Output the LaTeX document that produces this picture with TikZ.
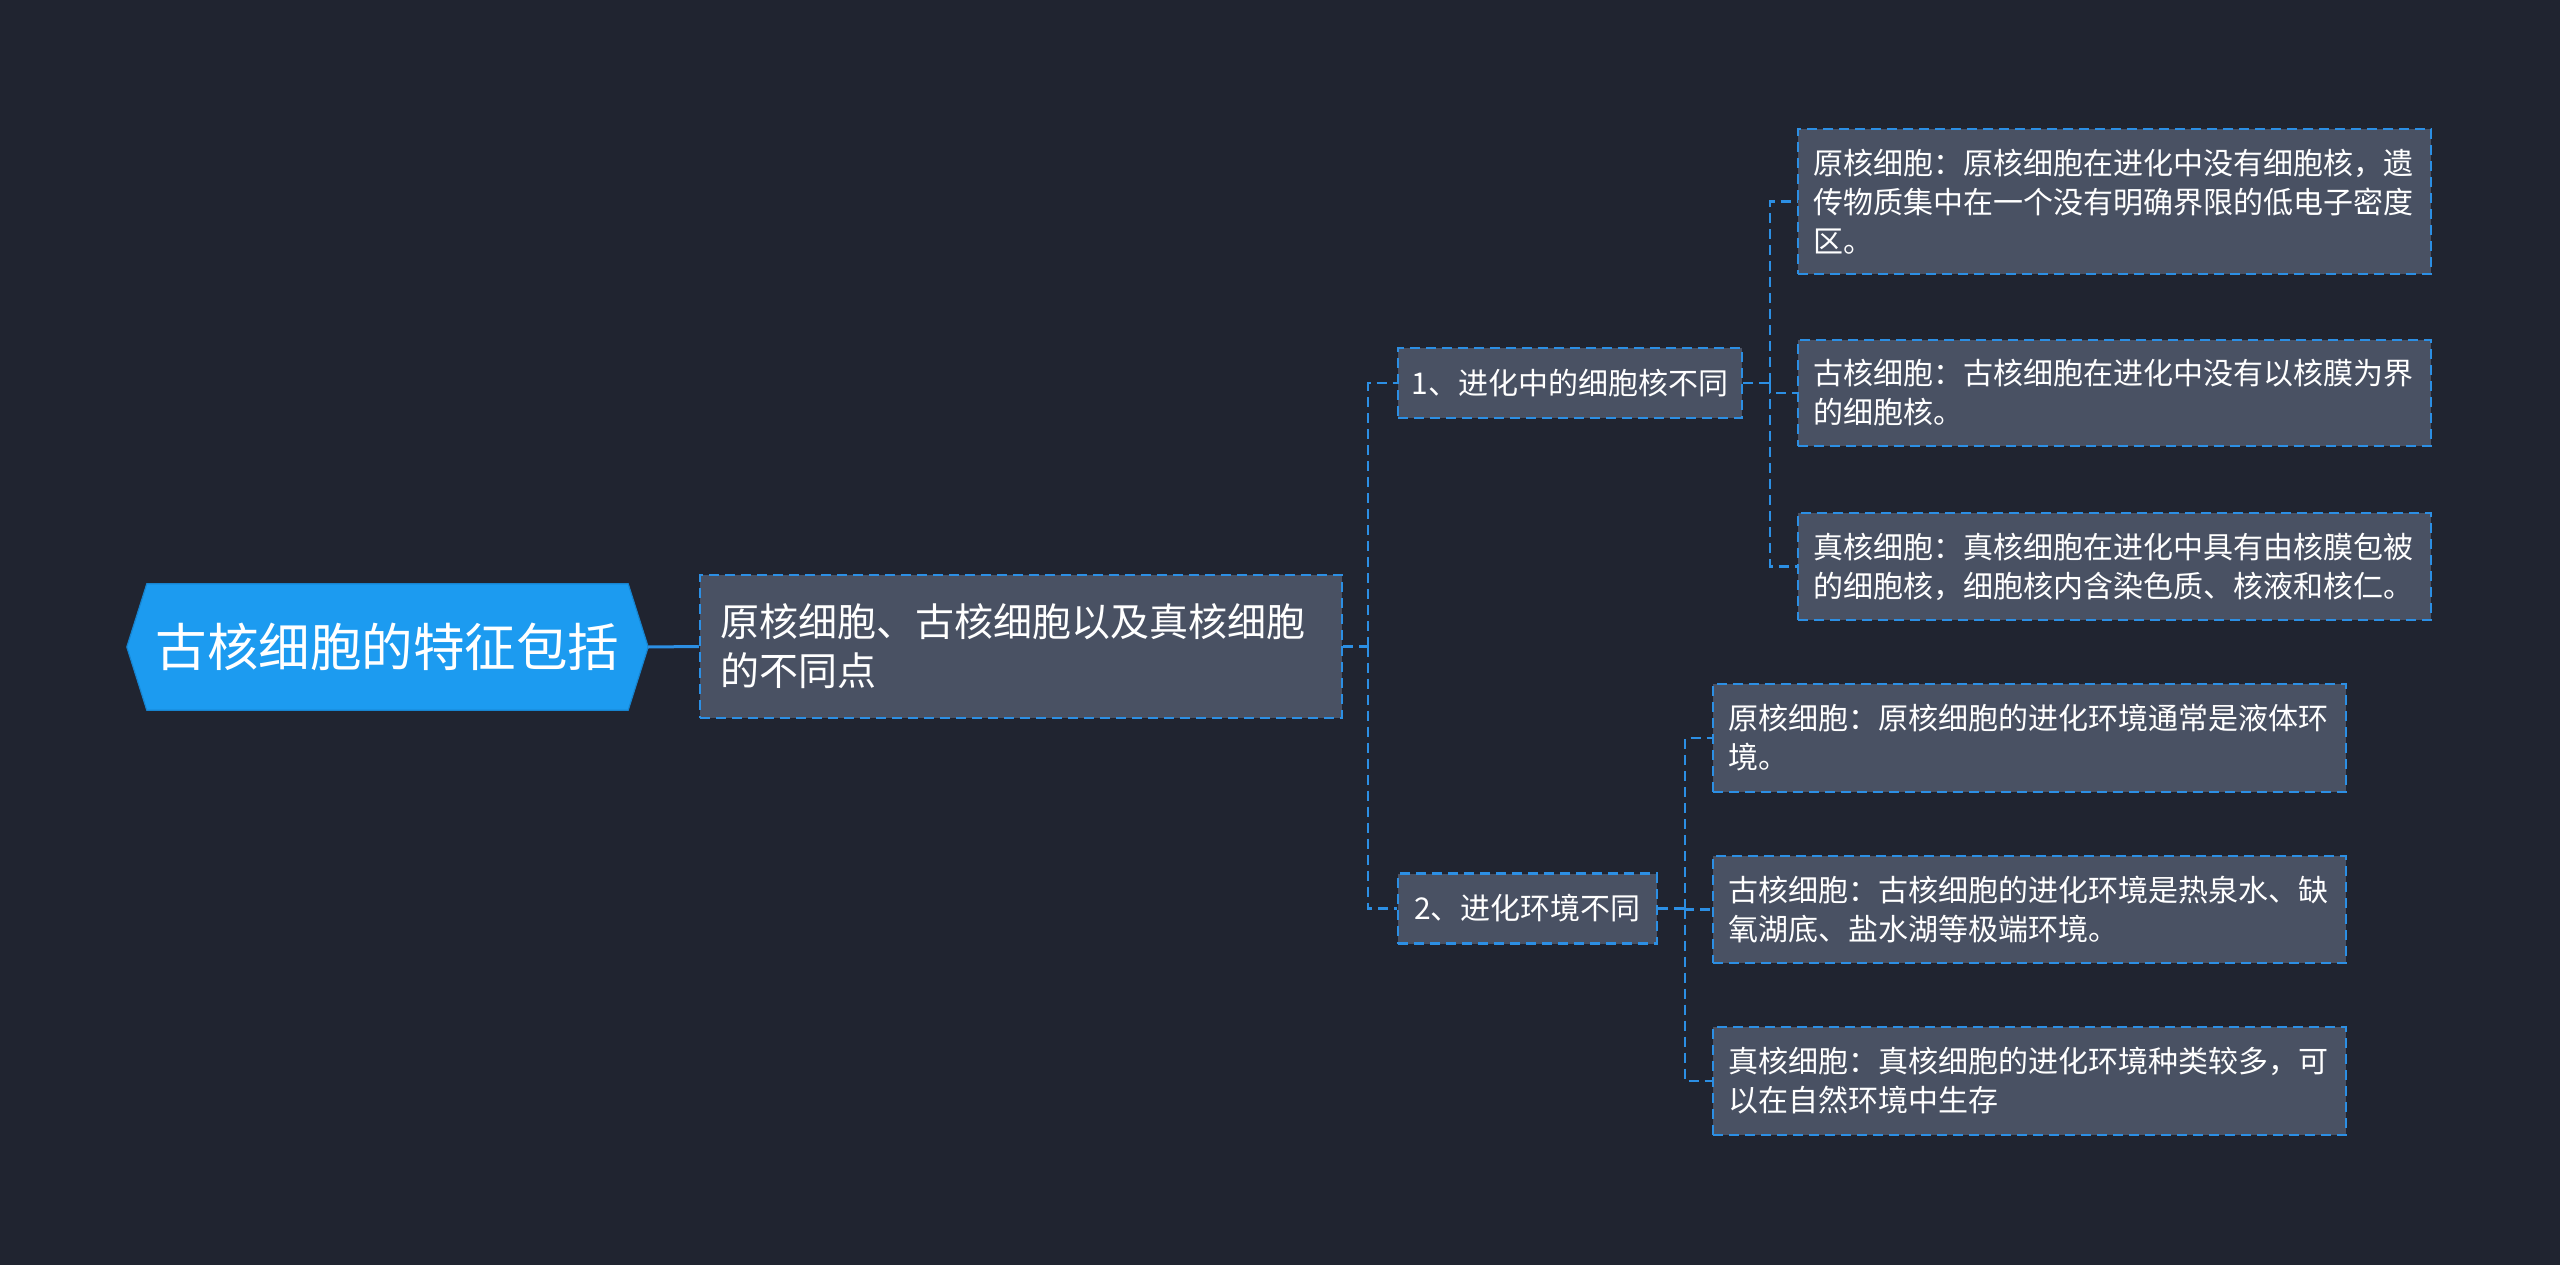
\documentclass[tikz,border=0pt]{standalone}
\usepackage{fontspec}
\setmainfont{Noto Sans CJK SC}
\usetikzlibrary{calc}
\definecolor{bgc}{HTML}{202430}
\definecolor{nodef}{HTML}{495163}
\definecolor{linec}{HTML}{2C8FE4}
\definecolor{rootf}{HTML}{1C9BF0}
\definecolor{rootb}{HTML}{1684D0}
\begin{document}
\begin{tikzpicture}[x=1pt,y=-1pt,
  dsh/.style={dash pattern=on 10pt off 6pt},
  conn/.style={draw=linec, line width=2.5pt, dsh},
  box/.style={draw=linec, fill=nodef, line width=2.5pt, dsh, text=white, inner xsep=0pt, inner ysep=0pt},
  leaf/.style={box, minimum width=633pt, text width=602pt, align=left, font=\fontsize{30}{39}\selectfont},
  mid/.style={box, font=\fontsize{30}{39}\selectfont, minimum height=70pt},
]
\fill[bgc] (0,0) rectangle (2560,1265);
\useasboundingbox (0,0) rectangle (2560,1265);

% root
\node[minimum width=521pt, minimum height=126pt, inner sep=0pt] (root) at (387.5,647) {};
\draw[fill=rootf, draw=rootb, line width=1.2pt]
  (root.west) -- ($(root.north west)+(20,0)$) -- ($(root.north east)+(-20,0)$) -- (root.east)
  -- ($(root.south east)+(-20,0)$) -- ($(root.south west)+(20,0)$) -- cycle;
\node[text=white, font=\fontsize{51.5}{60}\selectfont] (roottext) at (root.center) {古核细胞的特征包括};

% main
\node[box, minimum width=642pt, minimum height=143pt, text width=602pt, align=left,
  font=\fontsize{39}{49}\selectfont] (main) at (1021,646.5)
  {原核细胞、古核细胞以及真核细胞\\的不同点};

% level 2
\node[mid, minimum width=344pt] (n1) at (1570,383) {1、进化中的细胞核不同};
\node[mid, minimum width=259pt] (n2) at (1527.5,908.5) {2、进化环境不同};

% level 3, group 1
\node[leaf, minimum height=145pt] (a) at (2114.5,201.5)
  {原核细胞：原核细胞在进化中没有细胞核，遗\\传物质集中在一个没有明确界限的低电子密度\\区。};
\node[leaf, minimum height=106pt] (b) at (2114.5,393)
  {古核细胞：古核细胞在进化中没有以核膜为界\\的细胞核。};
\node[leaf, minimum height=107pt] (c) at (2114.5,566.5)
  {真核细胞：真核细胞在进化中具有由核膜包被\\的细胞核，细胞核内含染色质、核液和核仁。};

% level 3, group 2
\node[leaf, minimum height=108pt] (d) at (2029.5,738)
  {原核细胞：原核细胞的进化环境通常是液体环\\境。};
\node[leaf, minimum height=107pt] (e) at (2029.5,909.5)
  {古核细胞：古核细胞的进化环境是热泉水、缺\\氧湖底、盐水湖等极端环境。};
\node[leaf, minimum height=108pt] (f) at (2029.5,1081)
  {真核细胞：真核细胞的进化环境种类较多，可\\以在自然环境中生存};

% connectors
\draw[draw=linec, line width=3pt] (root.east) -- (main.west);

\coordinate (j1) at (1368,646.5);
\draw[conn] (main.east) -- (j1);
\draw[conn] (j1) |- (n1.west);
\draw[conn] (j1) |- (n2.west);

\coordinate (j2) at (1770,383);
\draw[conn] (n1.east) -- (j2);
\draw[conn] (j2) |- (a.west);
\draw[conn] (j2) |- (b.west);
\draw[conn] (j2) |- (c.west);

\coordinate (j3) at (1685,908.5);
\draw[conn] (n2.east) -- (j3);
\draw[conn] (j3) |- (d.west);
\draw[conn] (j3) |- (e.west);
\draw[conn] (j3) |- (f.west);
\end{tikzpicture}
\end{document}
